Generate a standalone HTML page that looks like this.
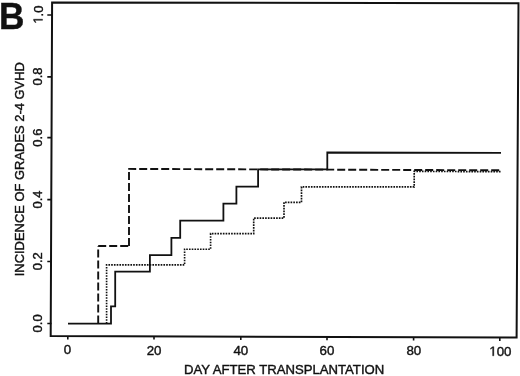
<!DOCTYPE html>
<html><head><meta charset="utf-8"><style>
html,body{margin:0;padding:0;background:#fff;}
body{width:520px;height:376px;overflow:hidden;}
svg{display:block;filter:blur(0.3px);}
text{font-family:"Liberation Sans",sans-serif;fill:#111;stroke:#111;stroke-width:0.4px;}
</style></head><body>
<svg width="520" height="376" viewBox="0 0 520 376">
<rect width="520" height="376" fill="#fff"/>
<!-- panel letter -->
<text transform="translate(-1.1,28.6) scale(0.94,1)" font-size="37.5" font-weight="bold">B</text>
<!-- frame -->
<path d="M52.1,2.5 L518.5,3.3 L516.6,337.6 L50.7,335.9 Z" fill="none" stroke="#111" stroke-width="2"/>
<!-- y ticks -->
<g stroke="#111" stroke-width="1.6">
<path d="M47.3,15H52 M47.3,76.9H52 M47.3,137.6H52 M47.3,199.6H52 M47.3,261.5H51.5 M47.3,323.5H51.5"/>
<path d="M67.8,336V339.6 M154,336V339.6 M240.8,336.5V340 M327,336.7V340.3 M413.6,337V340.6 M499.8,337.3V341"/>
</g>
<!-- y tick labels -->
<g font-size="13" text-anchor="middle">
<g transform="translate(42.5,14.6) rotate(-90)"><path d="M515 0V1237L197 1010V1180L530 1409H696V0Z" transform="translate(-9.04,0) scale(0.00635,-0.00635)" fill="#111" stroke="#111" stroke-width="63"/><text x="-1.81" y="0" text-anchor="start">.0</text></g>
<text transform="translate(42.2,76.5) rotate(-90)">0.8</text>
<text transform="translate(42.1,137.6) rotate(-90)">0.6</text>
<text transform="translate(41.9,199.5) rotate(-90)">0.4</text>
<text transform="translate(41.8,261.2) rotate(-90)">0.2</text>
<text transform="translate(42.0,323.4) rotate(-90)">0.0</text>
</g>
<text transform="translate(24,169.2) rotate(-90)" font-size="12.95" text-anchor="middle">INCIDENCE OF GRADES 2-4 GVHD</text>
<!-- x tick labels -->
<g font-size="13.3" text-anchor="middle">
<text x="67.5" y="354.3">0</text>
<text x="154.1" y="354.6">20</text>
<text x="240.8" y="354.7">40</text>
<text x="327" y="355">60</text>
<text x="413.8" y="355.2">80</text>
<path d="M515 0V1237L197 1010V1180L530 1409H696V0Z" transform="translate(489.30,355.8) scale(0.00649,-0.00649)" fill="#111" stroke="#111" stroke-width="61.6"/><text x="496.70" y="355.8" text-anchor="start">00</text>
</g>
<text x="284.1" y="373.8" font-size="13.15" text-anchor="middle">DAY AFTER TRANSPLANTATION</text>
<!-- curves -->
<path d="M68,323.6 H111 V306.4 H115.2 V271.7 H149.9 V255.1 H171.4 V237.9 H180.2 V220.7 H223.4 V203.6 H236.4 V186.6 H258.1 V169.3 H327.3 V152.5 L501,152.9" fill="none" stroke="#111" stroke-width="1.8"/>
<g fill="none" stroke="#111" stroke-width="1.9" stroke-dasharray="8 3">
<path d="M98.2,323.6 V246"/><path d="M98.2,246 H129"/><path d="M129,246 V169"/><path d="M128.2,168.9 L501,170.3"/>
</g>
<path d="M106.6,323.6 V264.9 H184.6 V249.2 H210.6 V233.6 H253.7 V218.1 H284 V202.3 H301.5 V186.9 H414.2 V171.4 L501,171.7" fill="none" stroke="#111" stroke-width="1.65" stroke-dasharray="1.65 1.1"/>
</svg>
</body></html>
